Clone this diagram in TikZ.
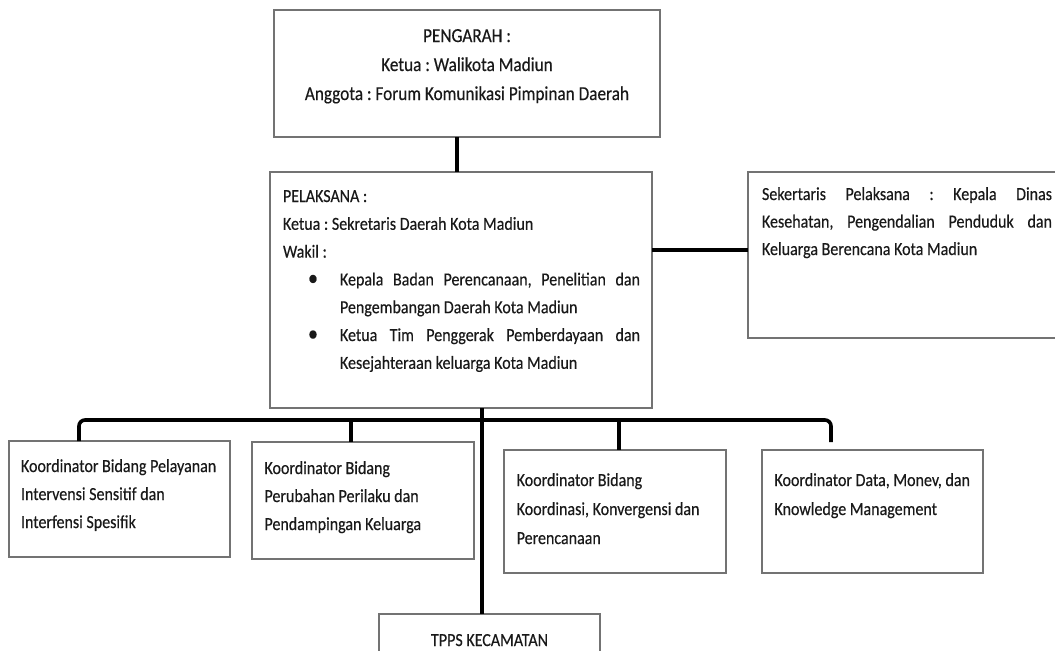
\documentclass[tikz,border=0pt]{standalone}
\usepackage{fontspec}
\setmainfont{Carlito}[FakeStretch=0.87, FakeBold=0.35]
\usetikzlibrary{shadows}
\frenchspacing
\newcommand\fsP{\fontsize{9.9pt}{14.5pt}\selectfont}
\newcommand\fsL{\fontsize{9.2pt}{13.9pt}\selectfont}
\newcommand\fsS{\fontsize{9.2pt}{13.75pt}\selectfont}
\newcommand\fsA{\fontsize{9.2pt}{14pt}\selectfont}
\newcommand\fsB{\fontsize{9.2pt}{14.5pt}\selectfont}
\newcommand\blt{\makebox[0pt]{\scalebox{1.25}{\textbullet}}}
\begin{document}
\begin{tikzpicture}[x=0.5pt,y=-0.5pt,
  box/.style={draw=black!55, line width=0.6pt, fill=white, anchor=north west,
    inner sep=0pt, outer sep=0pt,
    drop shadow={shadow xshift=0.7pt, shadow yshift=-0.7pt, opacity=0.25}},
  conn/.style={line width=1.8pt, black},
  txt/.style={anchor=base west, inner sep=0pt, outer sep=0pt, text=black!90}]
\useasboundingbox (0,0) rectangle (1055,650);
\clip (0,0) rectangle (1055,650);
% boxes
\node[box, minimum width=193pt, minimum height=63.5pt] (P) at (274,10) {};
\node[box, minimum width=191pt, minimum height=118pt] (L) at (270,172) {};
\node[box, minimum width=163.5pt, minimum height=83pt] (S) at (748,172) {};
\node[box, minimum width=110.5pt, minimum height=58pt] (K1) at (9,441) {};
\node[box, minimum width=111pt, minimum height=58.5pt] (K2) at (252,442) {};
\node[box, minimum width=111pt, minimum height=61.5pt] (K3) at (504,450) {};
\node[box, minimum width=110.5pt, minimum height=61.5pt] (K4) at (762,450) {};
\node[box, minimum width=110.5pt, minimum height=33pt] (T) at (379,614) {};
% texts
\node[txt] (Pt) at (274,42) {\parbox[t]{193pt}{\centering\fsP PENGARAH :\\ Ketua : Walikota Madiun\\ Anggota : Forum Komunikasi Pimpinan Daerah}};
\node[txt] (Lt) at (283,202) {\parbox[t]{180pt}{\fsL PELAKSANA :\\
Ketua : Sekretaris Daerah Kota Madiun\\
Wakil :\\
\hspace*{15pt}\blt\hspace*{13.5pt}\makebox[150pt][s]{Kepala Badan Perencanaan, Penelitian dan}\\
\hspace*{28.5pt}Pengembangan Daerah Kota Madiun\\
\hspace*{15pt}\blt\hspace*{13.5pt}\makebox[150pt][s]{Ketua Tim Penggerak Pemberdayaan dan}\\
\hspace*{28.5pt}Kesejahteraan keluarga Kota Madiun}};
\node[txt] (St) at (762,200) {\parbox[t]{145pt}{\fsS \makebox[145pt][s]{Sekertaris Pelaksana : Kepala Dinas}\\
\makebox[145pt][s]{Kesehatan, Pengendalian Penduduk dan}\\
Keluarga Berencana Kota Madiun}};
\node[txt] (K1t) at (21,472) {\parbox[t]{105pt}{\fsA Koordinator Bidang Pelayanan\\ Intervensi Sensitif dan\\ Interfensi Spesifik}};
\node[txt] (K2t) at (264.5,474) {\parbox[t]{105pt}{\fsA Koordinator Bidang\\ Perubahan Perilaku dan\\ Pendampingan Keluarga}};
\node[txt] (K3t) at (516.7,486) {\parbox[t]{105pt}{\fsB Koordinator Bidang\\ Koordinasi, Konvergensi dan\\ Perencanaan}};
\node[txt] (K4t) at (774.5,486) {\parbox[t]{105pt}{\fsB Koordinator Data, Monev, dan\\ Knowledge Management}};
\node[txt, anchor=base] (Tt) at (489.5,646) {\fontsize{9.2pt}{14pt}\selectfont TPPS KECAMATAN};
% connectors
\coordinate (ls) at (0,250);
\coordinate (vx) at (482,0);
\coordinate (d1) at (79,420);
\coordinate (d2) at (351,420);
\coordinate (d3) at (619,420);
\coordinate (d4) at (831,420);
\draw[conn] ([xshift=-5pt]P.south) -- ([xshift=-5pt]P.south |- L.north);
\draw[conn] (L.east |- ls) -- (S.west |- ls);
\draw[conn] (L.south -| vx) -- (T.north -| vx);
\draw[conn, rounded corners=3pt] (K1.north -| d1) -- (d1) -- (d4) -- ([yshift=4pt]K4.north -| d4);
\draw[conn] (d2) -- (K2.north -| d2);
\draw[conn] (d3) -- (K3.north -| d3);
\end{tikzpicture}
\end{document}
